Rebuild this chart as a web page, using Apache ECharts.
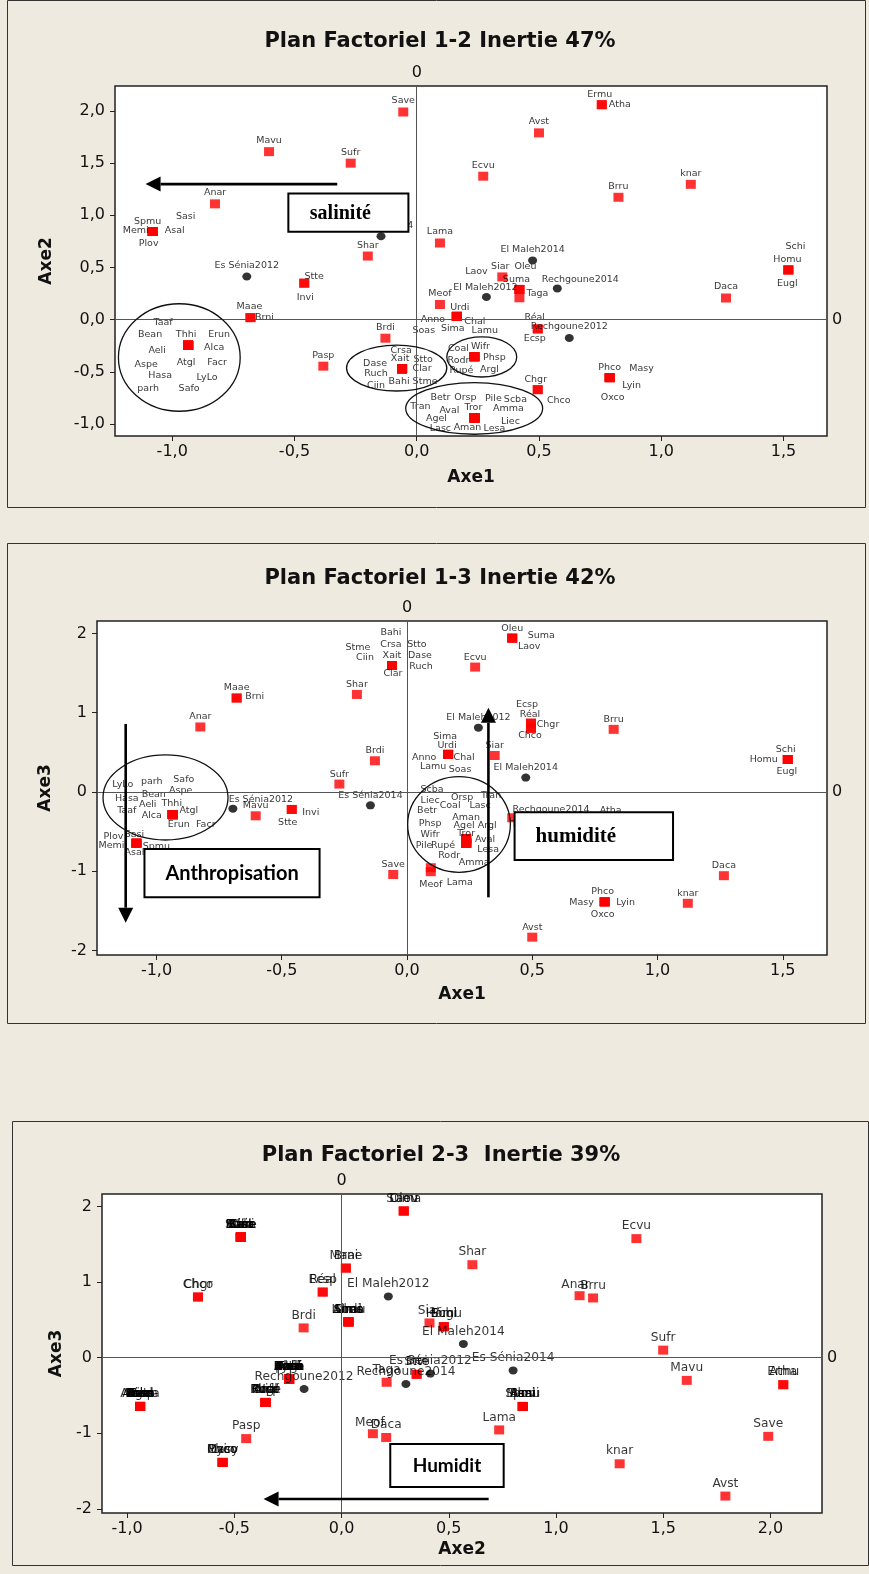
<!DOCTYPE html>
<html>
<head>
<meta charset="utf-8">
<script src="https://cdn.jsdelivr.net/npm/echarts@6/dist/echarts.min.js"></script>
<style>
  html, body { margin: 0; padding: 0; background: #EEEAE0; }
  #c { width: 869px; height: 1574px; }
</style>
</head>
<body>
<div id="c"></div>
<script>
// ---- Species scores on the first three factorial axes ----
const speciesNames = [
  'Save','Mavu','Sufr','Anar',
  'Spmu','Memi','Asal','Sasi','Plov',
  'Shar','Stte','Invi','Maae','Brni',
  'Taaf','Bean','Thhi','Erun','Aeli','Alca','Aspe','Atgl','Facr','Hasa','LyLo','parh','Safo',
  'Pasp','Brdi',
  'Crsa','Xait','Dase','Ruch','Ciin','Bahi','Stto','Clar','Stme',
  'Lama','Siar','Oleu','Suma','Laov','Taga','Meof',
  'Urdi','Anno','Chal','Sima','Lamu','Soas',
  'Réal','Ecsp',
  'Coal','Wifr','Phsp','Rodr','Rupé','Argl',
  'Chgr','Chco',
  'Betr','Orsp','Pile','Scba','Tran','Aval','Tror','Amma','Agel','Liec','Lasc','Aman','Lesa',
  'Phco','Masy','Lyin','Oxco',
  'Daca','Schi','Homu','Eugl','Ermu','Atha','Avst','Ecvu','Brru','knar'
];
const speciesAxe1 = [
  -0.055,-0.604,-0.27,-0.825,
  -1.08,-1.08,-1.08,-1.08,-1.08,
  -0.20,-0.46,-0.46,-0.68,-0.68,
  -0.935,-0.935,-0.935,-0.935,-0.935,-0.935,-0.935,-0.935,-0.935,-0.935,-0.935,-0.935,-0.935,
  -0.382,-0.128,
  -0.06,-0.06,-0.06,-0.06,-0.06,-0.06,-0.06,-0.06,-0.06,
  0.095,0.35,0.42,0.42,0.42,0.42,0.095,
  0.164,0.164,0.164,0.164,0.164,0.164,
  0.495,0.495,
  0.236,0.236,0.236,0.236,0.236,0.236,
  0.495,0.495,
  0.236,0.236,0.236,0.236,0.236,0.236,0.236,0.236,0.236,0.236,0.236,0.236,0.236,
  0.789,0.789,0.789,0.789,
  1.265,1.52,1.52,1.52,0.757,0.757,0.50,0.272,0.825,1.121
];
const speciesAxe2 = [
  1.99,1.61,1.50,1.11,
  0.845,0.845,0.845,0.845,0.845,
  0.61,0.35,0.35,0.02,0.02,
  -0.245,-0.245,-0.245,-0.245,-0.245,-0.245,-0.245,-0.245,-0.245,-0.245,-0.245,-0.245,-0.245,
  -0.445,-0.177,
  -0.47,-0.47,-0.47,-0.47,-0.47,-0.47,-0.47,-0.47,-0.47,
  0.735,0.41,0.29,0.29,0.29,0.21,0.146,
  0.032,0.032,0.032,0.032,0.032,0.032,
  -0.088,-0.088,
  -0.355,-0.355,-0.355,-0.355,-0.355,-0.355,
  -0.67,-0.67,
  -0.94,-0.94,-0.94,-0.94,-0.94,-0.94,-0.94,-0.94,-0.94,-0.94,-0.94,-0.94,-0.94,
  -0.555,-0.555,-0.555,-0.555,
  0.208,0.477,0.477,0.477,2.06,2.06,1.79,1.375,1.173,1.297
];
const speciesAxe3 = [
  -1.04,-0.30,0.10,0.82,
  -0.645,-0.645,-0.645,-0.645,-0.645,
  1.23,-0.22,-0.22,1.185,1.185,
  -0.285,-0.285,-0.285,-0.285,-0.285,-0.285,-0.285,-0.285,-0.285,-0.285,-0.285,-0.285,-0.285,
  -1.07,0.394,
  1.595,1.595,1.595,1.595,1.595,1.595,1.595,1.595,1.595,
  -0.955,0.46,1.94,1.94,1.94,-0.325,-1.005,
  0.474,0.474,0.474,0.474,0.474,0.474,
  0.868,0.868,
  -0.592,-0.592,-0.592,-0.592,-0.592,-0.592,
  0.803,0.803,
  -0.645,-0.645,-0.645,-0.645,-0.645,-0.645,-0.645,-0.645,-0.645,-0.645,-0.645,-0.645,-0.645,
  -1.385,-1.385,-1.385,-1.385,
  -1.055,0.41,0.41,0.41,-0.357,-0.357,-1.83,1.575,0.79,-1.403
];

// ---- Station scores ----
const stationNames = ['Es Sénia2012','Es Sénia2014','El Maleh2012','El Maleh2014','Rechgoune2012','Rechgoune2014'];
const stationAxe1 = [-0.695,-0.146,0.285,0.474,0.624,0.575];
const stationAxe2 = [0.414,0.80,0.218,0.568,-0.175,0.30];
const stationAxe3 = [-0.21,-0.168,0.811,0.182,-0.414,-0.348];

// ---- Tick values ----
const ticksP1x = [-1.0,-0.5,0.0,0.5,1.0,1.5];
const ticksP1y = [-1.0,-0.5,0.0,0.5,1.0,1.5,2.0];
const ticksP2x = [-1.0,-0.5,0.0,0.5,1.0,1.5];
const ticksP2y = [-2,-1,0,1,2];
const ticksP3x = [-1.0,-0.5,0.0,0.5,1.0,1.5,2.0];
const ticksP3y = [-2,-1,0,1,2];

const titles = ['Plan Factoriel 1-2 Inertie 47%', 'Plan Factoriel 1-3 Inertie 42%', 'Plan Factoriel 2-3  Inertie 39%'];

// ---- Label placement around crowded points (pixels, text centre relative to the mark) ----
const labelOffsetsP1 = {
  Spmu:[-5,-10], Memi:[-17,-1], Asal:[22,-1], Sasi:[33,-15], Plov:[-4,12],
  Stte:[10,-7], Invi:[1,14], Maae:[-1,-11], Brni:[14,0],
  Taaf:[-25,-23], Bean:[-38,-11], Thhi:[-2,-11], Erun:[31,-11], Aeli:[-31,5], Alca:[26,2],
  Aspe:[-42,19], Atgl:[-2,17], Facr:[29,17], Hasa:[-28,30], LyLo:[19,32], parh:[-40,43], Safo:[1,43],
  Crsa:[-1,-18], Xait:[-2,-10], Dase:[-27,-5], Ruch:[-26,5], Ciin:[-26,17], Bahi:[-3,13], Stto:[21,-9], Clar:[20,0], Stme:[23,13],
  Siar:[-2,-10], Laov:[-43,-18], Oleu:[6,-23], Suma:[-3,-10], Taga:[18,-4],
  'El Maleh2012':[-1,-9], 'Rechgoune2014':[23,-9],
  Urdi:[3,-9], Anno:[-24,3], Chal:[18,5], Sima:[-4,12], Lamu:[28,14], Soas:[-33,14],
  'Réal':[-3,-11], Ecsp:[-3,10],
  Coal:[-16,-8], Wifr:[6,-10], Phsp:[20,1], Rodr:[-16,4], 'Rupé':[-13,14], Argl:[15,13],
  Chgr:[-2,-10], Chco:[21,11],
  Betr:[-34,-20], Orsp:[-9,-20], Pile:[19,-19], Scba:[41,-18], Tran:[-54,-11], Aval:[-25,-7], Tror:[-1,-10],
  Amma:[34,-9], Agel:[-38,1], Liec:[36,4], Lasc:[-34,11], Aman:[-7,10], Lesa:[20,11],
  Phco:[0,-10], Masy:[32,-9], Lyin:[22,8], Oxco:[3,20],
  Schi:[7,-23], Homu:[-1,-10], Eugl:[-1,14], Ermu:[-2,-10], Atha:[18,0]
};
const labelOffsetsP2 = {
  Crsa:[-1,-21], Bahi:[-1,-33], Xait:[0,-10], Stme:[-34,-18], Ciin:[-27,-8], Clar:[1,8], Stto:[25,-21], Dase:[28,-10], Ruch:[29,1],
  Maae:[0,-10], Brni:[18,-1], 'Es Sénia2012':[28,-9], Invi:[19,3], Stte:[-4,13],
  LyLo:[-50,-30], parh:[-21,-33], Safo:[11,-35], Bean:[-19,-20], Aspe:[8,-24], Hasa:[-46,-16], Aeli:[-25,-10],
  Thhi:[-1,-11], Taaf:[-46,-4], Atgl:[16,-4], Alca:[-21,1], Erun:[6,10], Facr:[33,10],
  Plov:[-23,-7], Sasi:[-2,-9], Memi:[-25,2], Spmu:[20,3], Asal:[-2,9],
  Oleu:[0,-10], Suma:[29,-3], Laov:[17,8],
  Ecsp:[-4,-19], 'Réal':[-1,-9], Chgr:[17,-4], Chco:[-1,7],
  Sima:[-3,-18], Urdi:[-1,-9], Anno:[-24,3], Chal:[16,3], Lamu:[-15,12], Soas:[12,15],
  Schi:[-2,-10], Homu:[-24,0], Eugl:[-1,12],
  Coal:[-16,-33], Wifr:[-36,-4], Phsp:[-36,-15], Rodr:[-17,17], 'Rupé':[-23,7], Argl:[21,-13],
  Scba:[-34,-54], Liec:[-36,-43], Orsp:[-4,-46], Tran:[25,-48], Lasc:[14,-38], Betr:[-39,-33], Aman:[0,-26],
  Agel:[-2,-18], Tror:[0,-10], Aval:[19,-4], Pile:[-42,2], Lesa:[22,6], Amma:[8,19],
  Lama:[29,15], Meof:[0,13], Taga:[10,7], Atha:[14,-10], Ermu:[0,10], 'Rechgoune2012':[0,10],
  Pasp:[-6,-10],
  Phco:[-2,-10], Masy:[-23,1], Lyin:[21,1], Oxco:[-2,13]
};
const labelOffsetsP3 = { Anar:[-4,-11], Meof:[-3,-11] };

// ---- Plot layout ----
const panels = [
  { grid:{left:115, top:86, width:712, height:350}, xs:speciesAxe1, ys:speciesAxe2, xst:stationAxe1, yst:stationAxe2,
    xMin:-1.234, xMax:1.678, yMin:-1.114, yMax:2.239, xTicks:ticksP1x, yTicks:ticksP1y, yDec:1,
    xName:'Axe1', yName:'Axe2', xGap:33, yGap:60, offsets:labelOffsetsP1, defOff:[0,-11], fs:9.5 },
  { grid:{left:97, top:621, width:730, height:334}, xs:speciesAxe1, ys:speciesAxe3, xst:stationAxe1, yst:stationAxe3,
    xMin:-1.2375, xMax:1.6766, yMin:-2.055, yMax:2.156, xTicks:ticksP2x, yTicks:ticksP2y, yDec:0,
    xName:'Axe1', yName:'Axe3', xGap:31, yGap:43, offsets:labelOffsetsP2, defOff:[0,-10], fs:9.5 },
  { grid:{left:102, top:1194, width:720, height:319}, xs:speciesAxe2, ys:speciesAxe3, xst:stationAxe2, yst:stationAxe3,
    xMin:-1.1175, xMax:2.2407, yMin:-2.054, yMax:2.165, xTicks:ticksP3x, yTicks:ticksP3y, yDec:0,
    xName:'Axe2', yName:'Axe3', xGap:28, yGap:37, offsets:labelOffsetsP3, defOff:[0,-12.5], fs:12.2 }
];

const fmt = (dec) => (v) => (dec ? Number(v).toFixed(dec) : String(Math.round(v))).replace('.', ',');
const FONT = '"DejaVu Sans", Verdana, sans-serif';

const chart = echarts.init(document.getElementById('c'), null, { width: 869, height: 1574 });

const grid = [], xAxis = [], yAxis = [], series = [];
panels.forEach((p, i) => {
  grid.push(Object.assign({ show:true, backgroundColor:'#fff', borderColor:'#222', borderWidth:1.5 }, p.grid));
  xAxis.push({
    gridIndex:i, type:'value', min:p.xMin, max:p.xMax,
    axisLine:{show:false, onZero:false}, splitLine:{show:false},
    axisTick:{show:true, length:5, customValues:p.xTicks, lineStyle:{color:'#222', width:1}},
    axisLabel:{customValues:p.xTicks, formatter:fmt(1), fontSize:16, color:'#111', fontFamily:FONT, margin:8},
    name:p.xName, nameLocation:'middle', nameGap:p.xGap,
    nameTextStyle:{fontSize:17, fontWeight:'bold', color:'#111', fontFamily:FONT}
  });
  yAxis.push({
    gridIndex:i, type:'value', min:p.yMin, max:p.yMax,
    axisLine:{show:false, onZero:false}, splitLine:{show:false},
    axisTick:{show:true, length:5, customValues:p.yTicks, lineStyle:{color:'#222', width:1}},
    axisLabel:{customValues:p.yTicks, formatter:fmt(p.yDec), fontSize:16, color:'#111', fontFamily:FONT, margin:10},
    name:p.yName, nameLocation:'middle', nameGap:p.yGap,
    nameTextStyle:{fontSize:17, fontWeight:'bold', color:'#111', fontFamily:FONT}
  });
  const item = (name, x, y) => ({
    name, value:[x, y],
    label:{ offset: p.offsets[name] || p.defOff }
  });
  const lbl = { show:true, position:'inside', formatter:'{b}', fontSize:p.fs, color:'#000', fontFamily:FONT, align:'center', verticalAlign:'middle' };
  series.push({
    type:'scatter', name:'Espèces', xAxisIndex:i, yAxisIndex:i,
    symbol:'rect', symbolSize:[10, 9], itemStyle:{color:'#ff0000'},
    label:lbl, emphasis:{disabled:true}, silent:true,
    data: speciesNames.map((n, k) => item(n, p.xs[k], p.ys[k])),
    markLine:{
      silent:true, symbol:'none', animation:false,
      lineStyle:{color:'#555', width:1, type:'solid'},
      label:{show:true, position:'end', formatter:'0', fontSize:16, color:'#111', fontFamily:FONT, distance:5},
      data:[{xAxis:0}, {yAxis:0}]
    },
    z:3
  });
  series.push({
    type:'scatter', name:'Stations', xAxisIndex:i, yAxisIndex:i,
    symbol:'circle', symbolSize:[9, 8], itemStyle:{color:'#000'},
    label:lbl, emphasis:{disabled:true}, silent:true,
    data: stationNames.map((n, k) => item(n, p.xst[k], p.yst[k])),
    z:4
  });
});

chart.setOption({ animation:false, backgroundColor:'#EEEAE0', grid, xAxis, yAxis, series });

// ---- Frames, titles and annotations ----
const frames = [[7, 0, 865, 507], [7, 543, 865, 1023], [12, 1121, 868, 1565]];
const titlePos = [[440, 42], [440, 579], [441, 1156]];

// annotation geometry in axis units of each plot
const annotations = [
  { kind:'arrow', g:0, from:[-0.325, 1.299], to:[-1.109, 1.299] },
  { kind:'box', g:0, a:[-0.525, 1.210], b:[-0.034, 0.842], text:'salinité', font:'bold 20px "Liberation Serif", serif', dx:-8, dy:1 },
  { kind:'ellipse', g:0, c:[-0.971, -0.362], r:[0.249, 0.515] },
  { kind:'ellipse', g:0, c:[-0.082, -0.463], r:[0.205, 0.22] },
  { kind:'ellipse', g:0, c:[0.266, -0.357], r:[0.143, 0.192] },
  { kind:'ellipse', g:0, c:[0.235, -0.850], r:[0.280, 0.247] },
  { kind:'arrow', g:1, from:[-1.123, 0.858], to:[-1.123, -1.648] },
  { kind:'box', g:1, a:[-1.048, -0.719], b:[-0.349, -1.328], text:'Anthropisation', font:'bold 20px Lato, sans-serif', dx:0, dy:0 },
  { kind:'ellipse', g:1, c:[-0.964, -0.069], r:[0.2495, 0.536] },
  { kind:'ellipse', g:1, c:[0.2076, -0.410], r:[0.205, 0.603] },
  { kind:'arrow', g:1, from:[0.325, -1.328], to:[0.325, 1.063] },
  { kind:'box', g:1, a:[0.4295, -0.256], b:[1.062, -0.857], text:'humidité', font:'bold 21px "Liberation Serif", serif', dx:-18, dy:0 },
  { kind:'arrow', g:2, from:[0.686, -1.869], to:[-0.364, -1.869] },
  { kind:'box', g:2, a:[0.227, -1.142], b:[0.756, -1.710], text:'Humidit', font:'bold 19px Lato, sans-serif', dx:0, dy:0 }
];

const P = (g, v) => chart.convertToPixel({ gridIndex:g }, v);
const graphic = [];
frames.forEach(f => graphic.push({
  type:'rect', z:0, silent:true,
  shape:{ x:f[0] + 0.5, y:f[1] + 0.5, width:f[2] - f[0], height:f[3] - f[1] },
  style:{ fill:'none', stroke:'#333', lineWidth:1 }
}));
titles.forEach((t, i) => graphic.push({
  type:'text', z:10, silent:true, x:titlePos[i][0], y:titlePos[i][1],
  style:{ text:t, font:'bold 21px ' + FONT, fill:'#111', textAlign:'center', textVerticalAlign:'middle', align:'center', verticalAlign:'middle' }
}));
annotations.forEach(a => {
  if (a.kind === 'ellipse') {
    const c = P(a.g, a.c), e = P(a.g, [a.c[0] + a.r[0], a.c[1] + a.r[1]]);
    graphic.push({ type:'ellipse', z:100, silent:true,
      shape:{ cx:c[0], cy:c[1], rx:Math.abs(e[0] - c[0]), ry:Math.abs(e[1] - c[1]) },
      style:{ fill:'none', stroke:'#111', lineWidth:1.3 } });
  } else if (a.kind === 'arrow') {
    const s = P(a.g, a.from), t = P(a.g, a.to);
    const dx = t[0] - s[0], dy = t[1] - s[1], L = Math.hypot(dx, dy), ux = dx / L, uy = dy / L;
    const hl = 15, hw = 7.5;
    const bx = t[0] - ux * hl, by = t[1] - uy * hl;
    graphic.push({ type:'line', z:100, silent:true, shape:{ x1:s[0], y1:s[1], x2:bx, y2:by }, style:{ stroke:'#000', lineWidth:2.6 } });
    graphic.push({ type:'polygon', z:100, silent:true,
      shape:{ points:[[t[0], t[1]], [bx - uy * hw, by + ux * hw], [bx + uy * hw, by - ux * hw]] },
      style:{ fill:'#000' } });
  } else if (a.kind === 'box') {
    const p1 = P(a.g, a.a), p2 = P(a.g, a.b);
    const x = Math.min(p1[0], p2[0]), y = Math.min(p1[1], p2[1]);
    const w = Math.abs(p2[0] - p1[0]), h = Math.abs(p2[1] - p1[1]);
    graphic.push({ type:'rect', z:100, silent:true, shape:{ x, y, width:w, height:h }, style:{ fill:'#fff', stroke:'#000', lineWidth:2 } });
    graphic.push({ type:'text', z:101, silent:true, x:x + w / 2 + a.dx, y:y + h / 2 + a.dy,
      style:{ text:a.text, font:a.font, fill:'#000', textAlign:'center', textVerticalAlign:'middle', align:'center', verticalAlign:'middle' } });
  }
});
chart.setOption({ graphic });
</script>
</body>
</html>
